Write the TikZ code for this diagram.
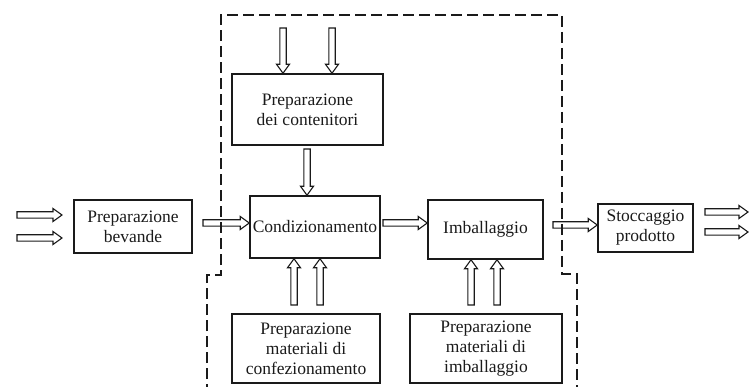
\documentclass[tikz,border=0pt]{standalone}
\usepackage{fontspec}
\setmainfont{Liberation Serif}
\usetikzlibrary{calc}
\definecolor{ink}{HTML}{1A1A1A}
\begin{document}
\begin{tikzpicture}[x=1pt,y=-1pt,
  box/.style={draw=ink, line width=1.5pt, inner sep=0pt, align=center,
    text=ink, font=\fontsize{17.5}{20}\selectfont},
  % outlined block arrow drawn as one closed polygon between two points
  hollow/.style={draw=ink, line width=1.1pt, line join=miter,
    to path={coordinate (hb) at ($(\tikztotarget)!9pt!(\tikztostart)$)
      ($(\tikztostart)!3.2pt!90:(\tikztotarget)$)
      -- ($(hb)!3.2pt!90:(\tikztotarget)$)
      -- ($(hb)!6.5pt!90:(\tikztotarget)$)
      -- (\tikztotarget)
      -- ($(hb)!6.5pt!-90:(\tikztotarget)$)
      -- ($(hb)!3.2pt!-90:(\tikztotarget)$)
      -- ($(\tikztostart)!3.2pt!-90:(\tikztotarget)$) -- cycle}},
  boundary/.style={draw=ink, line width=1.6pt, dash pattern=on 11pt off 5pt}
]
\useasboundingbox (0,0) rectangle (749,387);

% process blocks
\node[box, minimum width=118pt, minimum height=53pt] (bev)  at (133,226.5) {Preparazione\\bevande};
\node[box, minimum width=151pt, minimum height=71pt] (cont) at (307.5,109.5) {Preparazione\\dei contenitori};
\node[box, minimum width=130pt, minimum height=62pt] (cond) at (315,227) {Condizionamento};
\node[box, minimum width=115pt, minimum height=59pt] (imb)  at (485.5,229.5) {Imballaggio};
\node[box, minimum width=95pt,  minimum height=48pt] (stoc) at (645.5,228) {Stoccaggio\\prodotto};
\node[box, minimum width=148pt, minimum height=69pt] (conf) at (306,348.5) {Preparazione\\materiali di\\confezionamento};
\node[box, minimum width=152pt, minimum height=69pt] (imat) at (486,348.5) {Preparazione\\materiali di\\imballaggio};

% arrow end points
\coordinate (in1) at (17,215);  \coordinate (in1e) at (62,215);
\coordinate (in2) at (17,238);  \coordinate (in2e) at (62,238);
\coordinate (bc)  at (203,223); \coordinate (bce) at (bc -| cond.west);
\coordinate (ci)  at (383,223); \coordinate (cie) at (ci -| imb.west);
\coordinate (is)  at (553,225); \coordinate (ise) at (is -| stoc.west);
\coordinate (out1) at (705,212); \coordinate (out1e) at (748,212);
\coordinate (out2) at (705,232); \coordinate (out2e) at (748,232);
\coordinate (top1) at (283,28); \coordinate (top1e) at (top1 |- cont.north);
\coordinate (top2) at (332,28); \coordinate (top2e) at (top2 |- cont.north);
\coordinate (cc)  at (307,149); \coordinate (cce) at (cc |- cond.north);
\coordinate (up1) at (294,305); \coordinate (up1e) at (up1 |- cond.south);
\coordinate (up2) at (320,305); \coordinate (up2e) at (up2 |- cond.south);
\coordinate (up3) at (471,305); \coordinate (up3e) at (up3 |- imb.south);
\coordinate (up4) at (497,305); \coordinate (up4e) at (up4 |- imb.south);

% flows
\draw[hollow] (in1) to (in1e);
\draw[hollow] (in2) to (in2e);
\draw[hollow] (bc) to (bce);
\draw[hollow] (ci) to (cie);
\draw[hollow] (is) to (ise);
\draw[hollow] (out1) to (out1e);
\draw[hollow] (out2) to (out2e);
\draw[hollow] (top1) to (top1e);
\draw[hollow] (top2) to (top2e);
\draw[hollow] (cc) to (cce);
\draw[hollow] (up1) to (up1e);
\draw[hollow] (up2) to (up2e);
\draw[hollow] (up3) to (up3e);
\draw[hollow] (up4) to (up4e);

% plant boundary
\draw[boundary] (207,395) -- (207,275) -- (221,275) -- (221,15) -- (562,15)
  -- (562,274) -- (577,274) -- (577,395);
\end{tikzpicture}
\end{document}
